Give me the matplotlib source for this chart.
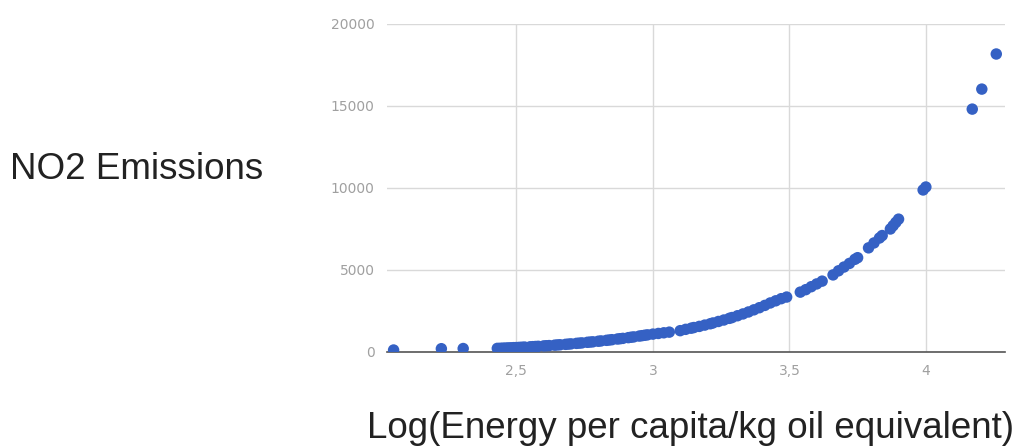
import matplotlib.pyplot as plt
from matplotlib.ticker import FixedLocator, FuncFormatter

# log energy per capita vs NO2 emissions
energy = [2.05, 2.225, 2.305,
          2.43, 2.44, 2.45, 2.46, 2.47, 2.48, 2.49, 2.50, 2.51, 2.52, 2.53,
          2.55, 2.56, 2.57, 2.58, 2.60, 2.61, 2.62, 2.64, 2.65, 2.66, 2.68,
          2.69, 2.70, 2.72, 2.73, 2.74, 2.76, 2.77, 2.78, 2.80, 2.81, 2.83,
          2.84, 2.85, 2.87, 2.88, 2.89, 2.91, 2.92, 2.93, 2.95, 2.96, 2.97,
          2.98, 3.00, 3.02, 3.04, 3.06,
          3.10, 3.12, 3.14, 3.15, 3.17, 3.19, 3.21, 3.22, 3.24, 3.26, 3.28,
          3.29, 3.31, 3.33, 3.35, 3.37, 3.39, 3.41, 3.43, 3.45, 3.47, 3.49,
          3.54, 3.56, 3.58, 3.60, 3.62, 3.66, 3.68, 3.70, 3.72, 3.74, 3.75,
          3.79, 3.81, 3.83, 3.84, 3.87, 3.88, 3.89, 3.90,
          3.99, 4.00, 4.17, 4.205, 4.258]
no2 = [120, 200, 210,
       220, 225, 235, 240, 250, 255, 265, 270, 280, 290, 300,
       315, 325, 335, 345, 370, 380, 390, 415, 430, 440, 465,
       480, 495, 525, 540, 555, 590, 605, 620, 655, 675, 710,
       730, 750, 790, 810, 830, 875, 900, 920, 970, 995, 1020,
       1045, 1090, 1130, 1170, 1210,
       1300, 1380, 1450, 1490, 1560, 1640, 1720, 1770, 1860, 1950, 2050,
       2100, 2210, 2320, 2440, 2570, 2700, 2840, 2990, 3120, 3250, 3350,
       3650, 3800, 3980, 4150, 4320, 4700, 4950, 5180, 5400, 5650, 5750,
       6350, 6650, 6950, 7100, 7500, 7700, 7900, 8100,
       9880, 10060, 14810, 16030, 18170]

xticks = [2.5, 3, 3.5, 4]
yticks = [0, 5000, 10000, 15000, 20000]

fig = plt.figure(figsize=(10.25, 4.46), dpi=100)
ax = fig.add_axes([0.3776, 0.2108, 0.6029, 0.7354])

ax.scatter(energy, no2, s=68, color='#3561c4', edgecolors='none', zorder=3)

ax.set_xlim(2.026, 4.29)
ax.set_ylim(0, 20000)
ax.xaxis.set_major_locator(FixedLocator(xticks))
ax.yaxis.set_major_locator(FixedLocator(yticks))
ax.xaxis.set_major_formatter(FuncFormatter(lambda v, p: ('%g' % v).replace('.', ',')))
ax.grid(True, color='#d9d9d9', linewidth=1)
ax.set_axisbelow(True)
for s in ['top', 'right', 'left']:
    ax.spines[s].set_visible(False)
ax.spines['bottom'].set_color('#555555')
ax.spines['bottom'].set_linewidth(1.2)
ax.tick_params(length=0, labelsize=10, labelcolor='#a0a0a0', pad=9)

fig.text(0.01, 0.619, 'NO2 Emissions', fontsize=26.5, family='Liberation Sans',
         va='center', ha='left', color='#222222')
fig.text(0.674, 0.04, 'Log(Energy per capita/kg oil equivalent)', fontsize=26.5,
         family='Liberation Sans', va='center', ha='center', color='#222222')

fig.savefig('out.png', dpi=100)
